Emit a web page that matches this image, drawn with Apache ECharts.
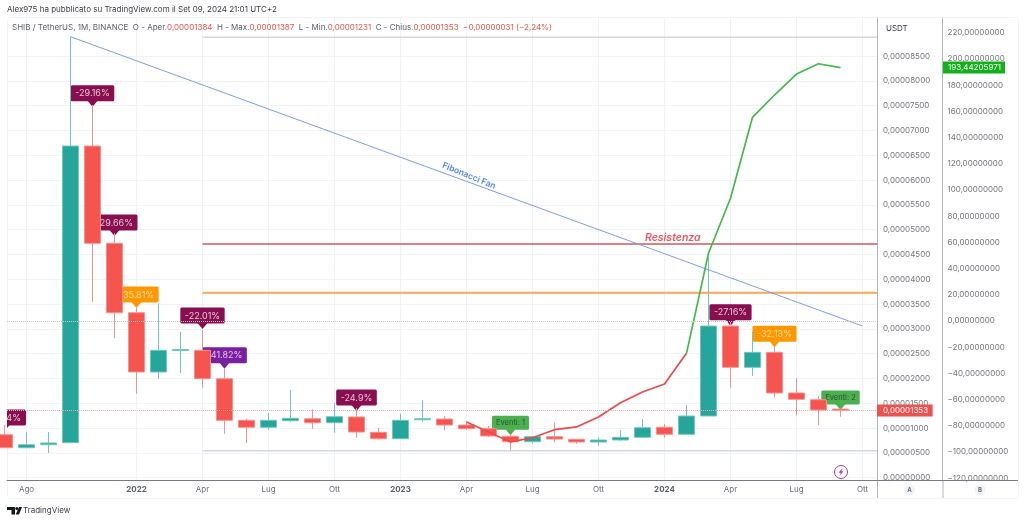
<!DOCTYPE html>
<html>
<head>
<meta charset="utf-8">
<title>SHIB / TetherUS</title>
<style>
  html, body { margin: 0; padding: 0; background: #fff; }
  #chart { width: 1024px; height: 522px; }
</style>
<script src="https://cdn.jsdelivr.net/npm/echarts@6/dist/echarts.min.js"></script>
</head>
<body>
<div id="chart"></div>
<script>
// prices are in units of 0.00000001 USDT, month 0 = Lug 2021
var opens  = [867, 605, 665, 706, 6687, 4726, 3326, 2131, 2564, 2568, 1996, 1157, 1016, 1149, 1189, 1109, 1224, 915, 786, 1169, 1183, 1062, 988, 835, 726, 827, 774, 720, 760, 814, 1016, 875, 1244, 3058, 2226, 2528, 1708, 1572, 1384];
var closes = [605, 665, 700, 6687, 4726, 3326, 2131, 2568, 2584, 1996, 1157, 1016, 1157, 1198, 1109, 1230, 921, 786, 1157, 1189, 1062, 988, 841, 726, 827, 780, 720, 760, 814, 1008, 875, 1244, 3058, 2226, 2528, 1708, 1581, 1365, 1353];
var lows   = [605, 599, 498, 706, 3548, 2810, 1693, 1996, 2111, 1814, 887, 700, 968, 1129, 988, 907, 806, 766, 786, 1117, 956, 962, 821, 524, 685, 714, 685, 645, 740, 814, 806, 875, 1244, 1814, 2050, 1621, 1258, 1062, 1231];
var highs  = [1062, 921, 921, 8891, 7514, 4933, 3482, 3516, 2943, 2978, 2191, 1189, 1304, 1774, 1379, 1506, 1405, 1002, 1290, 1560, 1238, 1143, 1042, 881, 841, 1117, 780, 806, 956, 1183, 1077, 1466, 4449, 3139, 2943, 2641, 2004, 1647, 1387];

// indicator on the B scale
var redMonths = [21, 22, 23, 24, 25, 26, 27, 28, 29, 30, 31];
var redValues = [-77.1, -84.7, -92.4, -89.1, -83, -80.9, -73.3, -62.4, -54.2, -48.1, -24.7];
var greenMonths = [31, 32, 33, 34, 35, 36, 37, 38];
var greenValues = [-24.7, 51.7, 93.7, 155.5, 172.5, 188.5, 196.4, 193.44205971];

// flags
var flagMonths = [0, 4, 5, 6, 9, 10, 16, 23, 33, 35, 38];
var flagPrices = [941, 7479, 4873, 3421, 2998, 2197, 1345, 855, 3064, 2629, 1365];
var flagTexts = ['4%', '-29.16%', '-29.66%', '-35.81%', '-22.01%', '-41.82%', '-24.9%', 'Eventi: 1', '-27.16%', '-32.13%', 'Eventi: 2'];
var flagKinds = ['maroon', 'maroon', 'maroon', 'orange', 'maroon', 'purple', 'maroon', 'green', 'maroon', 'orange', 'green'];

// drawn levels
var levelStart = 9;
var topLevel = 8878;
var bottomLevel = 544;
var resistanceLevel = 4711;
var orangeLevel = 3730;
var fanMonths = [3, 39];
var fanPrices = [8891, 3058];
var lastPrice = 1353;
var lastIndicator = 193.44205971;

// ticks
var priceTicks = [0, 500, 1000, 1500, 2000, 2500, 3000, 3500, 4000, 4500, 5000, 5500, 6000, 6500, 7000, 7500, 8000, 8500];
var indicatorTicks = [-120, -100, -80, -60, -40, -20, 0, 20, 40, 60, 80, 100, 120, 140, 160, 180, 200, 220];
var monthTicks = [1, 6, 9, 12, 15, 18, 21, 24, 27, 30, 33, 36, 39];
var monthLabels = ['Ago', '2022', 'Apr', 'Lug', 'Ott', '2023', 'Apr', 'Lug', 'Ott', '2024', 'Apr', 'Lug', 'Ott'];

var xMin = 0.1136, xMax = 39.659;
var up = '#26a69a', down = '#f5544f';
var FONT = 'Inter, "Noto Sans", sans-serif';
var flagColors = {maroon: '#880e4f', orange: '#ff9800', purple: '#7b1fa2', green: '#4caf50'};
var flagTextColors = {maroon: '#e6c3d5', orange: '#ffdca6', purple: '#e0c6ea', green: '#27562a'};

var candles = opens.map(function (o, i) { return [i, o, closes[i], lows[i], highs[i]]; });

function zip(xs, ys) { return xs.map(function (x, i) { return [x, ys[i]]; }); }

function level(value, color, width) {
    return {
        type: 'line', xAxisIndex: 0, yAxisIndex: 0, z: 3, silent: true,
        showSymbol: false, symbol: 'none', animation: false,
        lineStyle: {color: color, width: width},
        data: [[levelStart, value], [xMax, value]]
    };
}

function renderFlag(params, api) {
    var i = params.dataIndex;
    var p = api.coord([api.value(0), api.value(1)]);
    var kind = flagKinds[i];
    var isEvent = kind === 'green';
    var clipped = i === 0;
    var base = p[1] - 5.5;
    var cs = params.coordSys;
    return {
        type: 'group',
        clipPath: {type: 'rect', shape: {x: cs.x, y: cs.y, width: cs.width, height: cs.height}},
        children: [
            {
                type: 'text',
                style: {
                    text: flagTexts[i],
                    x: clipped ? p[0] + 21.5 : p[0],
                    y: base,
                    align: clipped ? 'right' : 'center',
                    verticalAlign: 'bottom',
                    fill: flagTextColors[kind],
                    font: (isEvent ? '7.5px ' : '9px ') + FONT,
                    backgroundColor: flagColors[kind],
                    borderRadius: 1.5,
                    padding: isEvent ? [3, 4, 3, 4] : (clipped ? [4, 5, 3, 20] : [4, 4.5, 3, 4.5])
                }
            },
            {
                type: 'polygon',
                shape: {points: [[p[0] - 5, base - 0.5], [p[0] + 5, base - 0.5], [p[0], p[1]]]},
                style: {fill: flagColors[kind]}
            }
        ]
    };
}

var chart = echarts.init(document.getElementById('chart'), null, {renderer: 'canvas'});

chart.setOption({
    animation: false,
    backgroundColor: '#fff',
    textStyle: {fontFamily: FONT},
    title: [
        {
            text: 'Alex975 ha pubblicato su TradingView.com il Set 09, 2024 21:01 UTC+2',
            left: 7, top: 6, padding: 0,
            textStyle: {fontSize: 8, fontWeight: 'normal', color: '#3a3d45', fontFamily: FONT}
        },
        {
            text: '{g|SHIB / TetherUS, 1M, BINANCE  O - Aper.}{r|0,00001384}{g|  H - Max.}{r|0,00001387}{g|  L - Min.}{r|0,00001231}{g|  C - Chius.}{r|0,00001353}{r|  \u22120,00000031 (\u22122,24%)}',
            left: 12, top: 24, padding: 0,
            textStyle: {
                fontSize: 8, fontWeight: 'normal', fontFamily: FONT,
                rich: {
                    g: {fontSize: 8, color: '#5d606b', fontFamily: FONT},
                    r: {fontSize: 8, color: '#f0524f', fontFamily: FONT}
                }
            }
        }
    ],
    grid: {left: 7, right: 147, top: 18, bottom: 42},
    xAxis: {
        type: 'value', min: xMin, max: xMax, scale: true,
        axisLine: {onZero: false, lineStyle: {color: '#787b86', width: 1}},
        axisTick: {show: false, customValues: monthTicks},
        splitLine: {show: true, lineStyle: {color: '#eef3f7', width: 1}},
        axisLabel: {
            customValues: monthTicks,
            color: '#6a6d78', fontSize: 8, margin: 6, fontFamily: FONT,
            hideOverlap: false,
            formatter: function (v) {
                var label = monthLabels[monthTicks.indexOf(v)];
                return /^\d+$/.test(label) ? '{b|' + label + '}' : label;
            },
            rich: {b: {fontWeight: 'bold', fontSize: 8, color: '#5d606b', fontFamily: FONT}}
        }
    },
    yAxis: [
        {
            type: 'value', position: 'right', min: -46, max: 9268, scale: true,
            axisLine: {show: true, onZero: false, lineStyle: {color: '#b2b5be', width: 1}},
            axisTick: {show: false, customValues: priceTicks},
            splitLine: {show: true, lineStyle: {color: '#f0f3f7', width: 1}},
            axisLabel: {
                customValues: priceTicks,
                color: '#74777f', fontSize: 8, margin: 6, fontFamily: FONT,
                showMinLabel: true, showMaxLabel: true, hideOverlap: false,
                formatter: function (v) { return (v / 1e8).toFixed(8).replace('.', ','); }
            }
        },
        {
            type: 'value', position: 'right', offset: 65.5, min: -121.4, max: 231.3, scale: true,
            axisLine: {show: true, onZero: false, lineStyle: {color: '#b2b5be', width: 1}},
            axisTick: {show: false, customValues: indicatorTicks},
            splitLine: {show: false},
            axisLabel: {
                customValues: indicatorTicks,
                color: '#74777f', fontSize: 8, margin: 5, fontFamily: FONT,
                hideOverlap: false,
                formatter: function (v) { return (v < 0 ? '\u2212' : '') + Math.abs(v).toFixed(8).replace('.', ','); }
            }
        }
    ],
    series: [
        {
            type: 'custom', z: 1, silent: true, xAxisIndex: 0, yAxisIndex: 0,
            renderItem: renderFlag,
            encode: {x: 0, y: 1},
            data: zip(flagMonths, flagPrices)
        },
        {
            type: 'candlestick', z: 2, silent: true, xAxisIndex: 0, yAxisIndex: 0,
            barWidth: 17,
            encode: {x: 0, y: [1, 2, 3, 4]},
            itemStyle: {color: up, color0: down, borderColor: '#70c7bf', borderColor0: '#f98f8b', borderColorDoji: '#70c7bf', borderWidth: 1},
            data: candles,
            markLine: {
                silent: true, symbol: 'none', animation: false,
                lineStyle: {type: 'dotted', color: '#f7a8a8', width: 1},
                label: {
                    show: true, position: 'end', distance: 0,
                    formatter: '0,00001353', color: '#fff', fontSize: 8, fontFamily: FONT,
                    backgroundColor: '#f0504f', padding: [2, 4.5, 2, 6]
                },
                data: [{yAxis: lastPrice}]
            }
        },
        level(topLevel, '#d5d8e0', 1.5),
        level(bottomLevel, '#d5d8e0', 1.5),
        level(resistanceLevel, '#cc5a62', 1.5),
        level(orangeLevel, '#ffa54f', 2),
        {
            type: 'line', z: 3, silent: true, symbol: 'none', showSymbol: false,
            xAxisIndex: 0, yAxisIndex: 0,
            lineStyle: {color: '#7f9cf5', width: 1},
            data: zip(fanMonths, fanPrices)
        },
        {
            type: 'line', z: 4, silent: true, symbol: 'none', showSymbol: false,
            xAxisIndex: 0, yAxisIndex: 1,
            lineStyle: {color: '#f44747', width: 1.7},
            data: zip(redMonths, redValues),
            markLine: {
                silent: true, symbol: 'none', animation: false,
                lineStyle: {type: 'dotted', color: '#c4c6cc', width: 1},
                label: {show: false},
                data: [{yAxis: 0}]
            }
        },
        {
            type: 'line', z: 4, silent: true, symbol: 'none', showSymbol: false,
            xAxisIndex: 0, yAxisIndex: 1,
            lineStyle: {color: '#43bb4a', width: 1.7},
            data: zip(greenMonths, greenValues),
            markLine: {
                silent: true, symbol: 'none', animation: false,
                lineStyle: {color: 'rgba(0,0,0,0)', width: 0},
                label: {
                    show: true, position: 'end', distance: 66, opacity: 1,
                    formatter: '193,44205971', color: '#fff', fontSize: 8, fontFamily: FONT,
                    backgroundColor: '#13b01a', padding: [2, 4, 2, 5]
                },
                data: [{yAxis: lastIndicator}]
            }
        }
    ],
    graphic: [
        {type: 'rect', z: 0, silent: true, shape: {x: 7.5, y: 17.5, width: 1011, height: 481, r: 3}, style: {fill: 'none', stroke: '#f1f3f6', lineWidth: 1}},
        {type: 'line', z: 5, silent: true, shape: {x1: 877.5, y1: 480, x2: 877.5, y2: 498}, style: {stroke: '#b2b5be', lineWidth: 1}},
        {type: 'line', z: 5, silent: true, shape: {x1: 943, y1: 480, x2: 943, y2: 498}, style: {stroke: '#b2b5be', lineWidth: 1}},
        {type: 'line', z: 5, silent: true, shape: {x1: 877, y1: 480.5, x2: 1018, y2: 480.5}, style: {stroke: '#787b86', lineWidth: 1}},
        {type: 'text', z: 5, silent: true, style: {text: 'USDT', x: 886, y: 29, verticalAlign: 'middle', fill: '#3a3d45', font: '8px ' + FONT}},
        {type: 'circle', z: 5, silent: true, shape: {cx: 909.5, cy: 490, r: 5.5}, style: {fill: '#f0f3fa'}},
        {type: 'text', z: 6, silent: true, style: {text: 'A', x: 909.5, y: 490, align: 'center', verticalAlign: 'middle', fill: '#6a6d78', font: 'bold 6px ' + FONT}},
        {type: 'circle', z: 5, silent: true, shape: {cx: 980, cy: 490, r: 5.5}, style: {fill: '#f0f3fa'}},
        {type: 'text', z: 6, silent: true, style: {text: 'B', x: 980, y: 490, align: 'center', verticalAlign: 'middle', fill: '#6a6d78', font: 'bold 6px ' + FONT}},
        {type: 'text', z: 6, silent: true, style: {text: 'Resistenza', x: 645, y: 238, verticalAlign: 'middle', fill: '#f7525f', font: 'italic 600 10.5px ' + FONT}},
        {type: 'text', z: 6, silent: true, rotation: -22.5 * Math.PI / 180, x: 469, y: 175.8, style: {text: 'Fibonacci Fan', align: 'center', verticalAlign: 'middle', fill: '#4f86f7', font: '600 8.5px ' + FONT}},
        {type: 'circle', z: 6, silent: true, shape: {cx: 841, cy: 472, r: 6.5}, style: {fill: '#fff', stroke: '#9c3fb8', lineWidth: 1}},
        {type: 'polygon', z: 7, silent: true, shape: {points: [[842.5, 468], [838.5, 472.8], [840.8, 472.8], [839.5, 476], [843.5, 471.2], [841.2, 471.2]]}, style: {fill: '#9c3fb8'}},
        {type: 'polygon', z: 6, silent: true, shape: {points: [[7, 507], [15, 507], [15, 514.5], [11.5, 514.5], [11.5, 510], [7, 510]]}, style: {fill: '#131722'}},
        {type: 'circle', z: 6, silent: true, shape: {cx: 16.8, cy: 508.6, r: 1.5}, style: {fill: '#131722'}},
        {type: 'polygon', z: 6, silent: true, shape: {points: [[19, 507], [15.7, 514.5], [19, 514.5], [22, 507]]}, style: {fill: '#131722'}},
        {type: 'text', z: 6, silent: true, style: {text: 'TradingView', x: 23, y: 511, verticalAlign: 'middle', fill: '#3a3d45', font: '8px ' + FONT}}
    ]
});
</script>
</body>
</html>
